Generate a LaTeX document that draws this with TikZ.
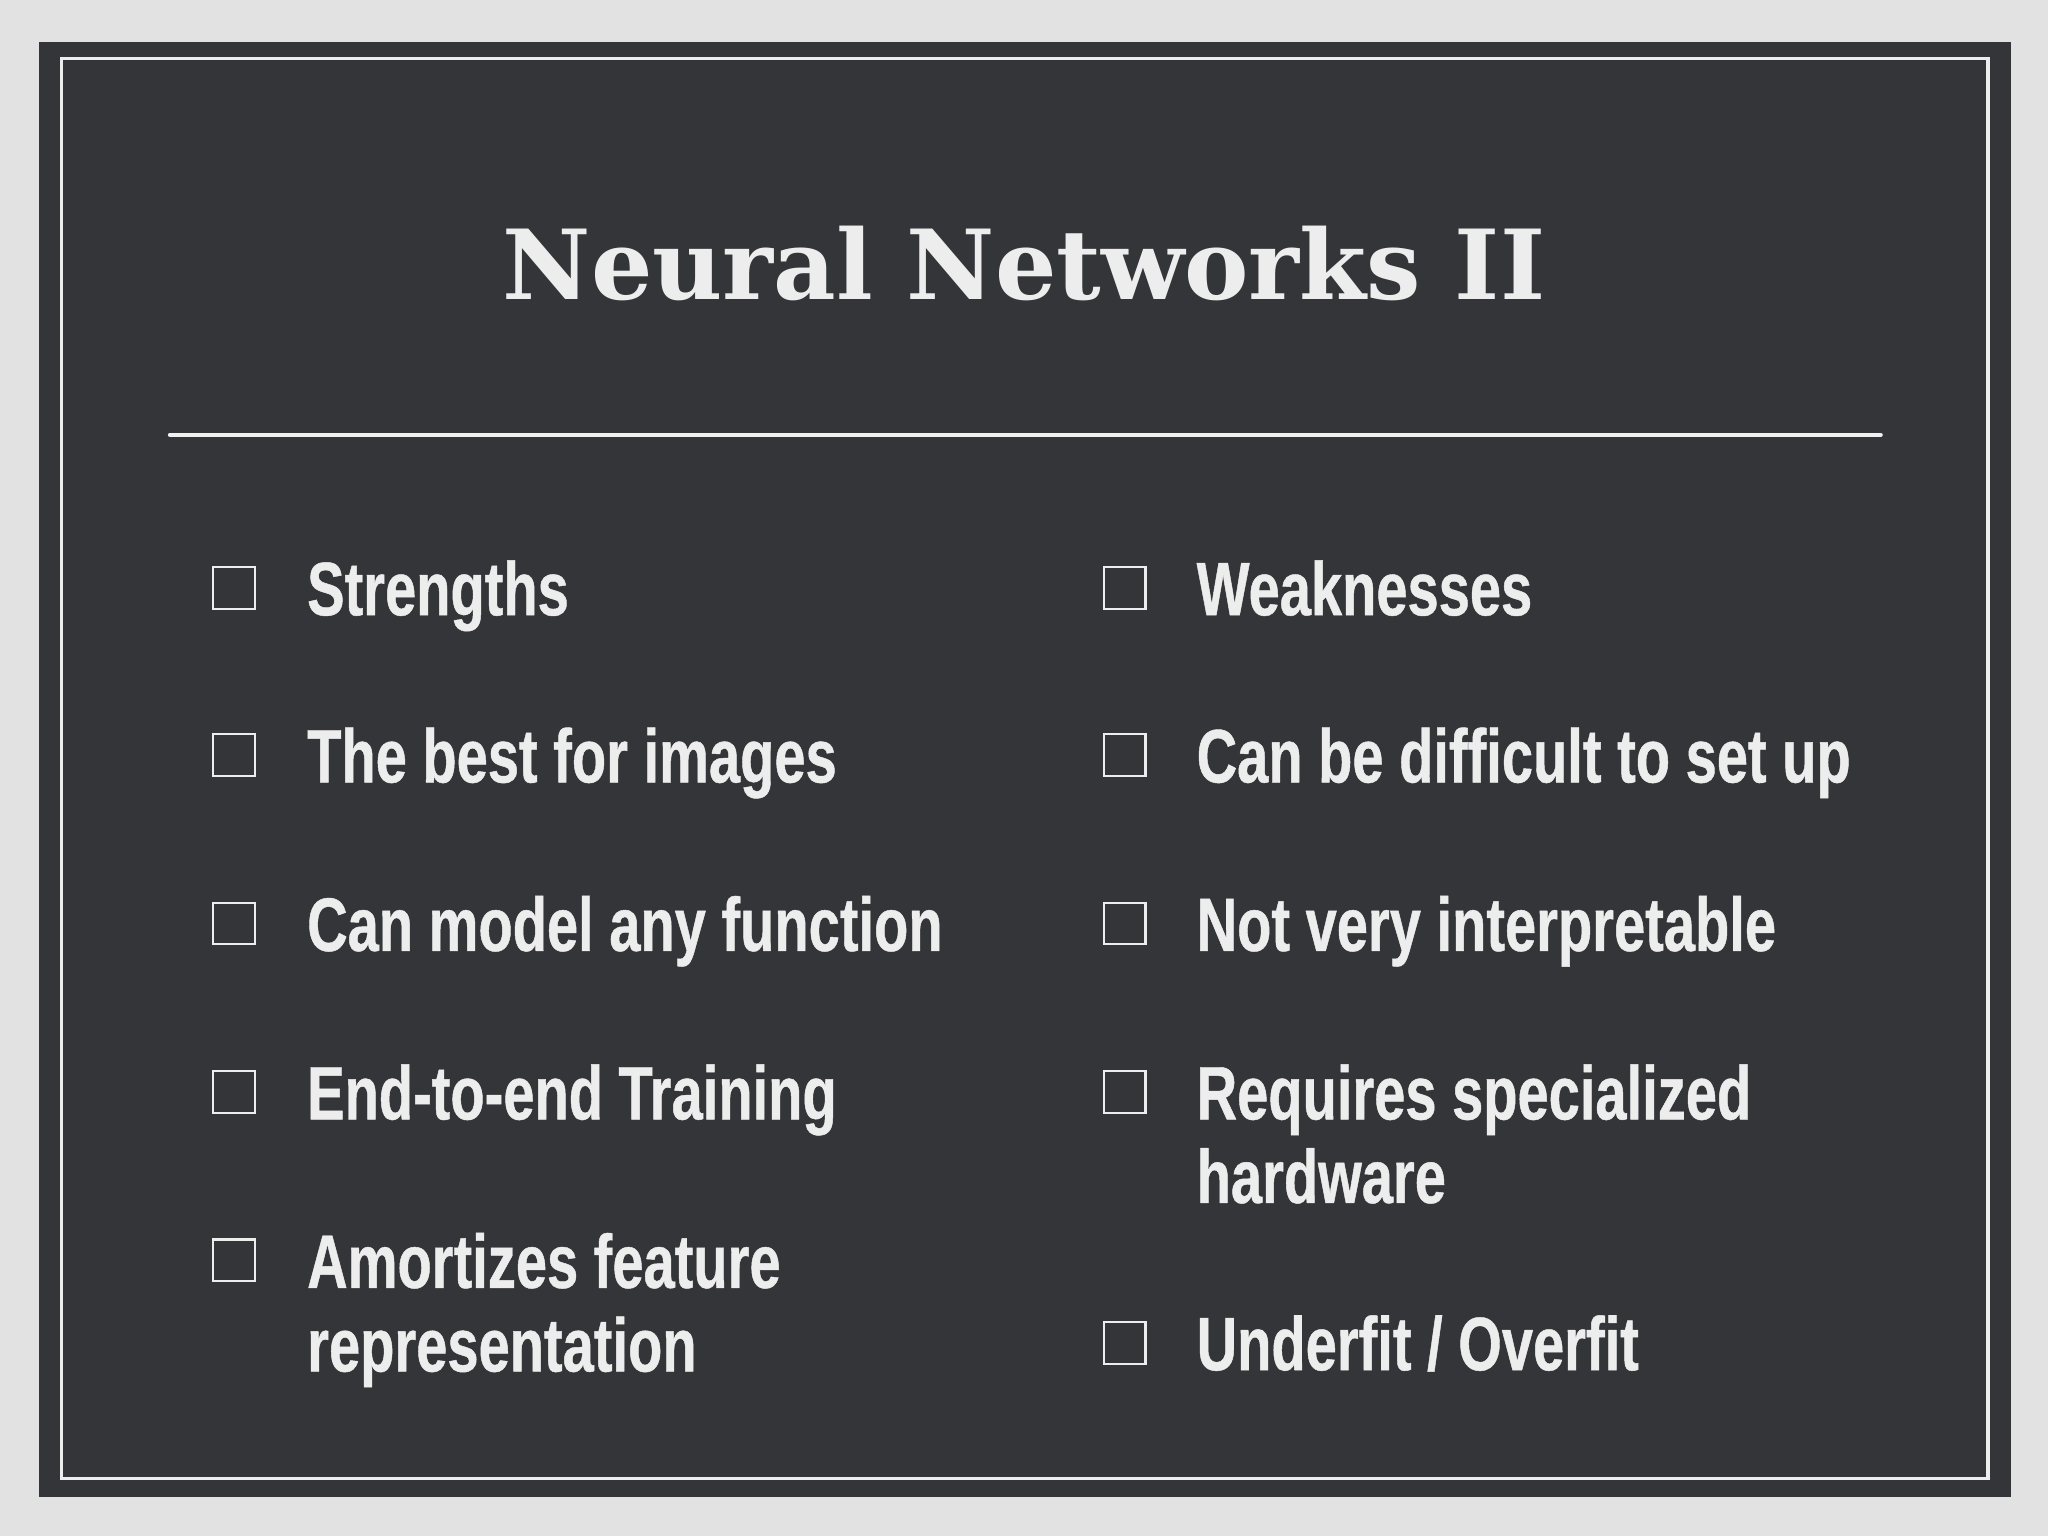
\documentclass[tikz,border=0pt]{standalone}
\usepackage{fontspec}
\newfontfamily\bodyfont[FakeStretch=0.74,FakeBold=0.6]{Liberation Sans Bold}
\newfontfamily\titlefont{DejaVu Serif Bold}
\definecolor{bg}{HTML}{E2E2E2}
\definecolor{panel}{HTML}{333538}
\definecolor{ink}{HTML}{EDEDED}
\begin{document}
\begin{tikzpicture}[x=1pt,y=-1pt,
  item/.style={anchor=base west,inner sep=0pt,text=ink,font=\bodyfont\fontsize{58}{64}\selectfont},
  box/.style={draw=ink,line width=1.6pt,minimum size=32pt,inner sep=0pt}]
\useasboundingbox (0,0) rectangle (1568,1176);
\fill[bg] (0,0) rectangle (1568,1176);
\fill[panel] (30,32) rectangle (1540,1146);
\draw[ink,line width=2.5pt] (47,45) rectangle (1522,1132);
\node[text=ink,font=\titlefont\fontsize{74}{80}\selectfont,inner sep=0pt,anchor=base] (title) at (784,229) {Neural Networks II};
\coordinate (r1) at (130,333); \coordinate (r2) at (1440,333);
\draw[ink!85,line width=3pt,line cap=round] (r1) -- (r2);
\foreach \n/\y in {a/450,b/578,c/707,d/836,e/965}{\node[box] (bl\n) at (179,\y) {};}
\foreach \n/\y in {a/450,b/578,c/707,d/836,e/1028}{\node[box] (br\n) at (861,\y) {};}
\node[item] (tla) at (235,471) {Strengths};
\node[item] (tlb) at (235,599) {The best for images};
\node[item] (tlc) at (235,728) {Can model any function};
\node[item] (tld) at (235,857) {End-to-end Training};
\node[item] (tle) at (235,986) {Amortizes feature};
\node[item] (tle2) at (235,1050) {representation};
\node[item] (tra) at (916,471) {Weaknesses};
\node[item] (trb) at (916,599) {Can be difficult to set up};
\node[item] (trc) at (916,728) {Not very interpretable};
\node[item] (trd) at (916,857) {Requires specialized};
\node[item] (trd2) at (916,921) {hardware};
\node[item] (tre) at (916,1049) {Underfit / Overfit};
\end{tikzpicture}
\end{document}
